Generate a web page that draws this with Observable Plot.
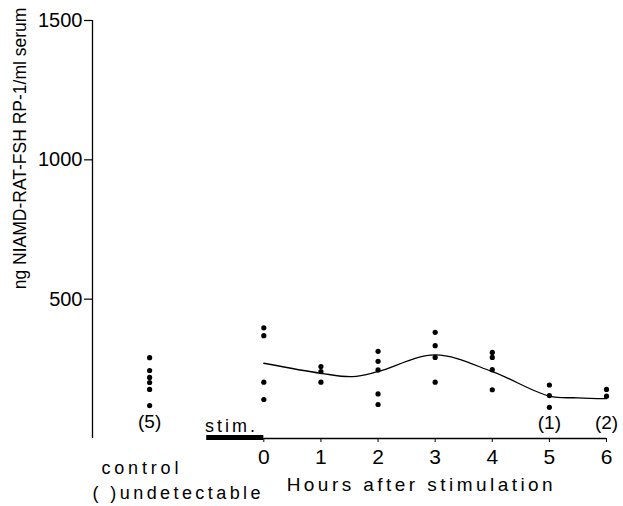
<!DOCTYPE html>
<html>
<head>
<meta charset="utf-8">
<script src="https://cdn.jsdelivr.net/npm/d3@7"></script>
<script src="https://cdn.jsdelivr.net/npm/@observablehq/plot@0.6"></script>
<style>
  html, body { margin: 0; padding: 0; background: #fff; }
</style>
</head>
<body>
<div id="chart"></div>
<script>
// ---- data ----
const hours = [0, 1, 2, 3, 4, 5, 6];
const yTicks = [500, 1000, 1500];

// individual animals (ng/ml)
const controlValues = [290, 244, 219, 201, 176, 118];
const hour0Values = [397, 369, 202, 140];
const hour1Values = [258, 240, 202];
const hour2Values = [313, 277, 246, 160, 122];
const hour3Values = [381, 333, 291, 202];
const hour4Values = [309, 291, 247, 175];
const hour5Values = [192, 154, 112];
const hour6Values = [176, 152];

// fitted curve
const curveHours  = [0, 1, 1.55, 2, 3, 4, 5, 5.5, 6];
const curveValues = [270, 234, 222, 240, 300, 240, 152, 146, 143];

// undetectable counts
const countHours = [5, 6];
const countLabels = ["(1)", "(2)"];
const controlCount = "(5)";

const controlPos = -2;

// ---- build tables ----
const byHour = [hour0Values, hour1Values, hour2Values, hour3Values, hour4Values, hour5Values, hour6Values];
const points = [];
byHour.forEach((vals, i) => vals.forEach(v => points.push({x: hours[i], y: v})));
controlValues.forEach(v => points.push({x: controlPos, y: v}));
const curve = curveHours.map((h, i) => ({x: h, y: curveValues[i]}));
const counts = countHours.map((h, i) => ({x: h, t: countLabels[i]}));

const font = "'Liberation Sans', Arial, sans-serif";

const chart = Plot.plot({
  width: 623,
  height: 506,
  marginLeft: 92,
  marginRight: 17,
  marginTop: 20,
  marginBottom: 68,
  x: {domain: [-3, 6], axis: null},
  y: {domain: [0, 1500], axis: null},
  style: {fontFamily: font, background: "white", color: "black"},
  marks: [
    Plot.ruleX([-3], {stroke: "black", strokeWidth: 1.3}),
    Plot.axisY({ticks: yTicks, tickFormat: d => String(d), tickSize: 8, tickPadding: 2, fontSize: 20, label: null, stroke: "black", strokeWidth: 1.2}),
    Plot.ruleY([0], {x1: 0, x2: 6, stroke: "black", strokeWidth: 1.3}),
    Plot.ruleY([0], {x1: -1, x2: 0, stroke: "black", strokeWidth: 5, dy: -1}),
    Plot.axisX({ticks: hours, tickFormat: d => String(d), tickSize: 4, tickPadding: 7, fontSize: 21, label: null, stroke: "black"}),
    Plot.line(curve, {x: "x", y: "y", curve: "catmull-rom", stroke: "black", strokeWidth: 1.3}),
    Plot.dot(points, {x: "x", y: "y", r: 2.6, fill: "black"}),
    Plot.text(counts, {x: "x", y: 0, text: "t", dy: -16, fontSize: 19}),
    Plot.text([controlCount], {x: controlPos, y: 0, text: d => d, dy: -17, fontSize: 19}),
    Plot.text(["stim."], {x: -1.03, y: 0, text: d => d, dy: -12, fontSize: 18, textAnchor: "start"}),
    Plot.text(["control"], {x: -2.17, y: 0, text: d => d, dy: 29.5, fontSize: 18}),
    Plot.text(["( )undetectable"], {x: -3, y: 0, text: d => d, dy: 55, fontSize: 18, textAnchor: "start"}),
    Plot.text(["Hours after stimulation"], {x: 0.4, y: 0, text: d => d, dy: 46, fontSize: 19, textAnchor: "start"}),
    Plot.text(["ng NIAMD-RAT-FSH RP-1/ml serum"], {x: -4.255, y: 1041, text: d => d, rotate: -90, fontSize: 17.5})
  ]
});

document.getElementById("chart").appendChild(chart);

// fit horizontal label widths to the reference
const fits = {
  "Hours after stimulation": 266,
  "( )undetectable": 168,
  "control": 77,
  "stim.": 50
};
d3.select(chart).selectAll("text").each(function() {
  const f = fits[this.textContent];
  if (f) d3.select(this).attr("textLength", f).attr("lengthAdjust", "spacing");
});
</script>
</body>
</html>
